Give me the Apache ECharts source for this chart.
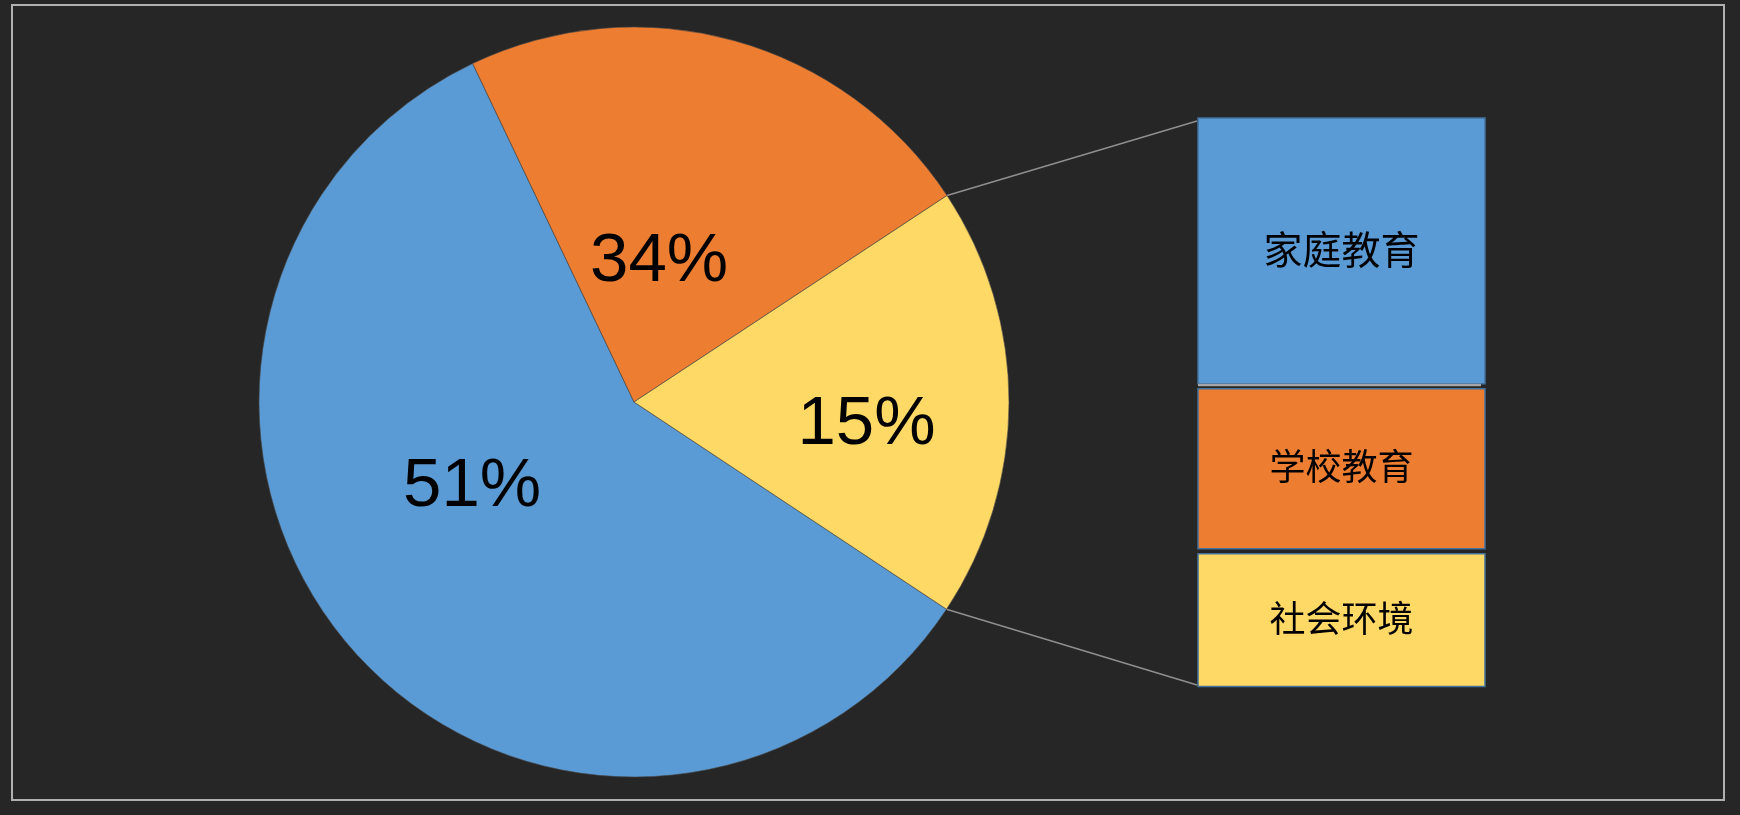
<!DOCTYPE html>
<html>
<head>
<meta charset="utf-8">
<script src="https://cdn.jsdelivr.net/npm/echarts@6/dist/echarts.min.js"></script>
<style>
html,body{margin:0;padding:0;background:#262626;}
#main{width:1740px;height:815px;}
</style>
</head>
<body>
<div id="main"></div>
<script>
// ---- data ----
const categories = ['家庭教育', '学校教育', '社会环境'];
const pieValues = [58.6, 22.8, 18.6];      // slice sizes as drawn
const pieLabels = ['51%', '34%', '15%'];    // labels as printed
const barValues = [47.2, 29.0, 23.8];       // stacked bar segments (top to bottom)
const colors = ['#5B9BD5', '#ED7D31', '#FFD966'];

// ---- styles ----
const labelOffsets = [[-18, -40], [-26, 43], [42, 23]];
const barFontSizes = [39, 36, 36];
const GAP = 5;
const total = barValues.reduce((a, b) => a + b, 0);

const chart = echarts.init(document.getElementById('main'), null, { renderer: 'canvas' });

function renderItem(params, api) {
  const i = params.dataIndex;
  let base = 0;
  for (let j = i + 1; j < barValues.length; j++) base += barValues[j];
  const topVal = base + api.value(1);
  const pTop = api.coord([0, topVal]);
  const pBot = api.coord([0, base]);
  const w = api.size([1, 0])[0];
  const x0 = pTop[0] - w / 2;
  const insetTop = i === 0 ? 0 : GAP / 2;
  const insetBot = i === barValues.length - 1 ? 0 : GAP / 2;
  const y0 = pTop[1] + insetTop;
  const h = pBot[1] - pTop[1] - insetTop - insetBot;
  const children = [];
  if (i === 1) {
    children.push({ type: 'rect', shape: { x: x0, y: y0 - GAP / 2 - 2.5, width: w - 4, height: 2.5 },
      style: { fill: '#a6a6a6' } });
  }
  children.push({ type: 'rect', shape: { x: x0, y: y0, width: w, height: h },
    style: { fill: colors[i], stroke: '#41719C', lineWidth: 1.5 } });
  children.push({ type: 'text', style: { text: categories[i], x: x0 + w / 2, y: y0 + h / 2 - 2,
    align: 'center', verticalAlign: 'middle', fill: '#000',
    font: barFontSizes[i] + 'px "Noto Sans CJK SC", sans-serif' } });
  return { type: 'group', children: children };
}

const option = {
  backgroundColor: '#262626',
  animation: false,
  grid: { left: 1198, top: 118, width: 287, height: 568.5 },
  xAxis: { type: 'category', data: ['bar'], show: false },
  yAxis: { type: 'value', min: 0, max: total, show: false },
  graphic: [
    { type: 'rect', id: 'frame', shape: { x: 12, y: 5, width: 1712, height: 795 },
      style: { fill: null, stroke: '#b0b0b0', lineWidth: 2 }, silent: true }
  ],
  series: [
    {
      type: 'pie',
      center: [634, 402],
      radius: 375,
      startAngle: 326.45,
      clockwise: true,
      silent: true,
      avoidLabelOverlap: false,
      emphasis: { disabled: true },
      itemStyle: { borderColor: 'rgba(70,70,70,0.6)', borderWidth: 1 },
      label: {
        show: true, position: 'inside',
        formatter: p => pieLabels[p.dataIndex],
        color: '#000', fontSize: 69,
        fontFamily: '"Liberation Sans", Arial, sans-serif'
      },
      labelLine: { show: false },
      data: categories.map((n, i) => ({
        name: n, value: pieValues[i],
        itemStyle: { color: colors[i] },
        label: { offset: labelOffsets[i] }
      }))
    },
    {
      type: 'custom',
      silent: true,
      renderItem: renderItem,
      encode: { x: 0, y: 1 },
      data: barValues.map(v => [0, v])
    }
  ]
};
chart.setOption(option);

// connector lines from the 15% slice edges to the bar corners
try {
  const lay = chart.getModel().getSeriesByIndex(0).getData().getItemLayout(2);
  const pts = [lay.startAngle, lay.endAngle]
    .map(a => [lay.cx + lay.r * Math.cos(a), lay.cy + lay.r * Math.sin(a)])
    .sort((p, q) => p[1] - q[1]);
  const rect = chart.getModel().getComponent('grid', 0).coordinateSystem.getRect();
  chart.setOption({
    graphic: [
      { type: 'line', id: 'c1', shape: { x1: pts[0][0], y1: pts[0][1], x2: rect.x - 1, y2: rect.y + 3 },
        style: { stroke: '#8f8f8f', lineWidth: 1.5 }, silent: true },
      { type: 'line', id: 'c2', shape: { x1: pts[1][0], y1: pts[1][1], x2: rect.x - 1, y2: rect.y + rect.height - 1.5 },
        style: { stroke: '#8f8f8f', lineWidth: 1.5 }, silent: true }
    ]
  });
} catch (e) { console.log(e); }
</script>
</body>
</html>
